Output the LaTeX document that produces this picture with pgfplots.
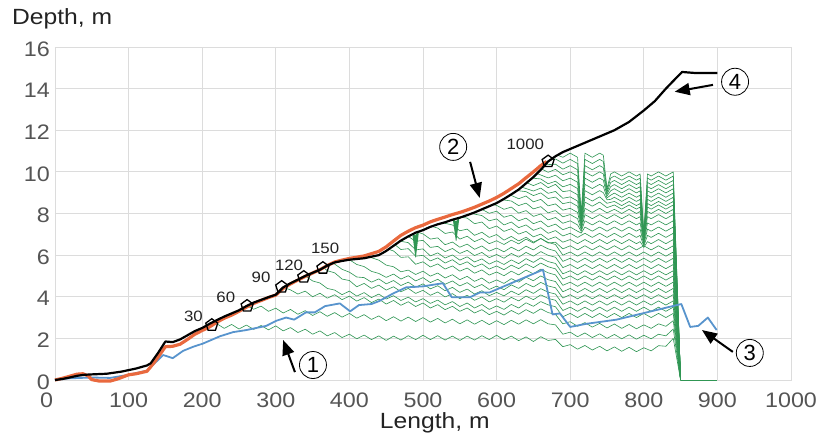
\documentclass[border=0pt]{standalone}
\usepackage{fontspec}
\setmainfont{Liberation Sans}
\usepackage{graphicx}
\usepackage{pgfplots}
\pgfplotsset{compat=1.18}
\usetikzlibrary{arrows.meta}
\definecolor{gcol}{RGB}{48,150,84}
\definecolor{ocol}{RGB}{233,105,62}
\definecolor{bcol}{RGB}{88,148,205}
\definecolor{tcol}{RGB}{85,85,85}
\definecolor{lcol}{RGB}{35,35,35}
\definecolor{gridc}{RGB}{220,220,220}
\newcommand{\sx}[1]{\scalebox{1.11}[1]{#1}}
\newcommand{\lx}[1]{\scalebox{1.12}[1]{#1}}
\tikzset{gl/.style={gcol, line width=0.62pt, line join=round}}
\begin{document}
\begin{tikzpicture}
\begin{axis}[
 at={(0,0)}, anchor=south west,
 scale only axis, width=736pt, height=333pt,
 xmin=0, xmax=1000, ymin=0, ymax=16,
 xtick={0,100,...,1000}, ytick={0,2,...,16},
 xticklabels={{\makebox[0pt][r]{\sx{0}\hspace{2pt}}},\sx{100},\sx{200},\sx{300},\sx{400},\sx{500},\sx{600},\sx{700},\sx{800},\sx{900},\sx{1000}},
 yticklabels={\sx{0},\sx{2},\sx{4},\sx{6},\sx{8},\sx{10},\sx{12},\sx{14},\sx{16}},
 grid=major, grid style={gridc, line width=0.8pt},
 axis line style={gridc, line width=0.8pt},
 major tick length=0pt,
 tick label style={font=\fontsize{21}{25}\selectfont, text=tcol},
 xticklabel style={anchor=north, inner sep=0pt, yshift=-13pt},
 yticklabel style={anchor=east, inner sep=0pt, xshift=-5pt, yshift=-2pt},
 clip=false,
]
% ---- green profiles
\addplot[gl] coordinates {(213,2.64) (220,2.70) (230,2.48) (240,2.67) (250,2.45) (260,2.64) (270,2.43) (280,2.62) (290,2.41) (300,2.60) (310,2.36) (320,2.52) (330,2.28) (340,2.44) (350,2.20) (360,2.36) (370,2.12) (380,2.28) (390,2.04) (400,2.20) (410,1.98) (420,2.16) (430,1.94) (440,2.12) (450,1.90) (460,2.11) (470,1.92) (480,2.13) (490,1.94) (500,2.15) (510,1.94) (520,2.13) (530,1.92) (540,2.11) (550,1.90) (560,2.11) (570,1.92) (580,2.13) (590,1.94) (600,2.15) (610,1.93) (620,2.11) (630,1.89) (640,2.07) (650,1.85) (660,2.08) (670,1.90) (680,1.95) (690,1.60) (700,1.70) (710,1.48) (720,1.66) (730,1.44) (740,1.62) (750,1.40) (760,1.59) (770,1.38) (780,1.57) (790,1.36) (800,1.55) (810,1.40) (820,1.65) (830,1.62) (840,2.00) (850,0)};
\addplot[gl] coordinates {(261,3.56) (270,3.40) (280,3.55) (290,3.30) (300,3.45) (310,3.22) (320,3.39) (330,3.16) (340,3.33) (350,3.10) (360,3.28) (370,3.06) (380,3.24) (390,3.02) (400,3.20) (410,2.97) (420,3.14) (430,2.91) (440,3.08) (450,2.85) (460,3.04) (470,2.83) (480,3.02) (490,2.81) (500,3.00) (510,2.78) (520,2.96) (530,2.74) (540,2.92) (550,2.70) (560,2.89) (570,2.68) (580,2.87) (590,2.66) (600,2.85) (610,2.66) (620,2.87) (630,2.68) (640,2.89) (650,2.70) (660,2.90) (670,2.70) (680,2.65) (690,2.20) (700,2.30) (710,2.08) (720,2.26) (730,2.04) (740,2.22) (750,2.00) (760,2.19) (770,1.98) (780,2.17) (790,1.96) (800,2.15) (810,1.98) (820,2.20) (830,2.12) (840,2.45) (850,0)};
\addplot[gl] coordinates {(310,4.45) (320,4.33) (330,4.13) (340,4.27) (350,4.00) (360,4.17) (370,3.93) (380,4.10) (390,3.86) (400,4.03) (410,3.79) (420,3.96) (430,3.72) (440,3.89) (450,3.65) (460,3.82) (470,3.59) (480,3.76) (490,3.53) (500,3.70) (510,3.46) (520,3.62) (530,3.38) (540,3.54) (550,3.30) (560,3.46) (570,3.22) (580,3.38) (590,3.14) (600,3.30) (610,3.12) (620,3.34) (630,3.16) (640,3.38) (650,3.20) (660,3.42) (670,3.24) (680,3.15) (690,2.70) (700,2.80) (710,2.58) (720,2.76) (730,2.54) (740,2.72) (750,2.50) (760,2.69) (770,2.48) (780,2.67) (790,2.46) (800,2.65) (810,2.48) (820,2.70) (830,2.58) (840,2.85) (850,0)};
\addplot[gl] coordinates {(340,5.00) (350,4.76) (360,4.66) (370,4.40) (380,4.32) (390,4.10) (400,4.27) (410,4.03) (420,4.20) (430,3.96) (440,4.13) (450,3.89) (460,4.05) (470,3.82) (480,3.98) (490,3.75) (500,3.91) (510,3.68) (520,3.84) (530,3.61) (540,3.77) (550,3.53) (560,3.70) (570,3.46) (580,3.63) (590,3.39) (600,3.56) (610,3.39) (620,3.63) (630,3.46) (640,3.71) (650,3.54) (660,3.77) (670,3.61) (680,3.52) (690,3.04) (700,3.20) (710,3.00) (720,3.20) (730,3.00) (740,3.20) (750,3.00) (760,3.20) (770,3.00) (780,3.20) (790,3.00) (800,3.20) (810,3.00) (820,3.20) (830,3.00) (840,3.20) (850,0)};
\addplot[gl] coordinates {(365,5.40) (370,5.25) (380,5.15) (390,4.85) (400,4.78) (410,4.48) (420,4.64) (430,4.40) (440,4.56) (450,4.32) (460,4.48) (470,4.24) (480,4.40) (490,4.16) (500,4.31) (510,4.07) (520,4.23) (530,3.99) (540,4.15) (550,3.91) (560,4.07) (570,3.83) (580,3.99) (590,3.75) (600,3.91) (610,3.74) (620,3.97) (630,3.80) (640,4.03) (650,3.86) (660,4.09) (670,3.92) (680,3.83) (690,3.34) (700,3.50) (710,3.30) (720,3.50) (730,3.30) (740,3.50) (750,3.30) (760,3.50) (770,3.30) (780,3.50) (790,3.30) (800,3.50) (810,3.30) (820,3.50) (830,3.30) (840,3.50) (850,0)};
\addplot[gl] coordinates {(378,5.62) (390,5.32) (400,5.18) (410,4.95) (420,4.92) (430,4.70) (440,4.86) (450,4.62) (460,4.78) (470,4.54) (480,4.70) (490,4.46) (500,4.62) (510,4.38) (520,4.53) (530,4.29) (540,4.45) (550,4.21) (560,4.37) (570,4.13) (580,4.29) (590,4.05) (600,4.21) (610,4.04) (620,4.27) (630,4.10) (640,4.34) (650,4.16) (660,4.39) (670,4.22) (680,4.13) (690,3.64) (700,3.80) (710,3.60) (720,3.80) (730,3.60) (740,3.80) (750,3.60) (760,3.80) (770,3.60) (780,3.80) (790,3.60) (800,3.80) (810,3.60) (820,3.80) (830,3.60) (840,3.80) (850,0)};
\addplot[gl] coordinates {(400,5.78) (410,5.55) (420,5.45) (430,5.22) (440,5.12) (450,4.93) (460,5.09) (470,4.85) (480,5.01) (490,4.76) (500,4.92) (510,4.68) (520,4.84) (530,4.60) (540,4.76) (550,4.52) (560,4.68) (570,4.44) (580,4.59) (590,4.35) (600,4.51) (610,4.34) (620,4.57) (630,4.40) (640,4.64) (650,4.47) (660,4.69) (670,4.52) (680,4.43) (690,3.94) (700,4.10) (710,3.90) (720,4.10) (730,3.90) (740,4.10) (750,3.90) (760,4.10) (770,3.90) (780,4.10) (790,3.90) (800,4.10) (810,3.90) (820,4.10) (830,3.90) (840,4.10) (850,0)};
\addplot[gl] coordinates {(428,5.90) (440,5.76) (450,5.52) (460,5.44) (470,5.20) (480,5.28) (490,5.07) (500,5.23) (510,4.99) (520,5.14) (530,4.90) (540,5.06) (550,4.82) (560,4.98) (570,4.74) (580,4.90) (590,4.65) (600,4.81) (610,4.64) (620,4.87) (630,4.70) (640,4.94) (650,4.77) (660,5.00) (670,4.82) (680,4.73) (690,4.24) (700,4.40) (710,4.20) (720,4.40) (730,4.20) (740,4.40) (750,4.20) (760,4.40) (770,4.20) (780,4.40) (790,4.20) (800,4.40) (810,4.20) (820,4.40) (830,4.20) (840,4.40) (850,0)};
\addplot[gl] coordinates {(453,6.28) (460,6.20) (470,5.89) (480,5.92) (490,5.56) (500,5.68) (510,5.43) (520,5.58) (530,5.33) (540,5.48) (550,5.23) (560,5.38) (570,5.13) (580,5.29) (590,5.04) (600,5.19) (610,5.01) (620,5.23) (630,5.05) (640,5.28) (650,5.10) (660,5.33) (670,5.15) (680,5.05) (690,4.55) (700,4.70) (710,4.50) (720,4.70) (730,4.50) (740,4.70) (750,4.50) (760,4.70) (770,4.50) (780,4.70) (790,4.50) (800,4.70) (810,4.50) (820,4.70) (830,4.50) (840,4.70) (850,0)};
\addplot[gl] coordinates {(462,6.50) (470,6.27) (480,6.31) (490,5.95) (500,5.99) (510,5.72) (520,5.87) (530,5.62) (540,5.78) (550,5.53) (560,5.68) (570,5.43) (580,5.58) (590,5.33) (600,5.48) (610,5.30) (620,5.52) (630,5.35) (640,5.58) (650,5.40) (660,5.62) (670,5.44) (680,5.34) (690,4.85) (700,5.00) (710,4.80) (720,5.00) (730,4.80) (740,5.00) (750,4.80) (760,5.00) (770,4.80) (780,5.00) (790,4.80) (800,5.00) (810,4.80) (820,5.00) (830,4.80) (840,5.00) (850,0)};
\addplot[gl] coordinates {(469,6.67) (480,6.60) (490,6.25) (500,6.30) (510,5.96) (520,6.11) (530,5.86) (540,6.01) (550,5.76) (560,5.92) (570,5.67) (580,5.82) (590,5.57) (600,5.73) (610,5.55) (620,5.77) (630,5.59) (640,5.83) (650,5.65) (660,5.87) (670,5.69) (680,5.60) (690,5.10) (700,5.25) (710,5.05) (720,5.25) (730,5.05) (740,5.25) (750,5.05) (760,5.25) (770,5.05) (780,5.25) (790,5.05) (800,5.25) (810,5.05) (820,5.25) (830,5.05) (840,5.25) (850,0)};
\addplot[gl] coordinates {(480,6.90) (490,6.66) (500,6.71) (510,6.37) (520,6.42) (530,6.17) (540,6.32) (550,6.08) (560,6.23) (570,5.98) (580,6.13) (590,5.88) (600,6.03) (610,5.85) (620,6.08) (630,5.90) (640,6.13) (650,5.95) (660,6.17) (670,5.99) (680,5.90) (690,5.40) (700,5.55) (710,5.35) (720,5.55) (730,5.35) (740,5.55) (750,5.35) (760,5.55) (770,5.35) (780,5.55) (790,5.35) (800,5.55) (810,5.35) (820,5.55) (830,5.35) (840,5.55) (850,0)};
\addplot[gl] coordinates {(492,7.11) (500,7.02) (510,6.77) (520,6.83) (530,6.50) (540,6.63) (550,6.38) (560,6.53) (570,6.28) (580,6.44) (590,6.19) (600,6.34) (610,6.16) (620,6.38) (630,6.20) (640,6.43) (650,6.25) (660,6.48) (670,6.30) (680,6.20) (690,5.70) (700,5.85) (710,5.65) (720,5.85) (730,5.65) (740,5.85) (750,5.65) (760,5.85) (770,5.65) (780,5.85) (790,5.65) (800,5.85) (810,5.65) (820,5.85) (830,5.65) (840,5.85) (850,0)};
\addplot[gl] coordinates {(512,7.38) (520,7.30) (530,7.04) (540,7.11) (550,6.77) (560,6.91) (570,6.65) (580,6.80) (590,6.55) (600,6.69) (610,6.51) (620,6.72) (630,6.54) (640,6.77) (650,6.58) (660,6.80) (670,6.61) (680,6.51) (690,6.00) (700,6.15) (710,5.95) (720,6.15) (730,5.95) (740,6.15) (750,5.95) (760,6.15) (770,5.95) (780,6.15) (790,5.95) (800,6.15) (810,5.95) (820,6.15) (830,5.95) (840,6.15) (850,0)};
\addplot[gl] coordinates {(527,7.55) (540,7.45) (550,7.17) (560,7.25) (570,6.95) (580,7.10) (590,6.85) (600,6.99) (610,6.72) (620,6.90) (630,6.68) (640,6.86) (650,6.62) (660,6.80) (670,6.58) (680,6.62) (690,6.30) (700,6.45) (710,6.25) (720,6.45) (730,6.25) (740,6.45) (750,6.25) (760,6.45) (770,6.25) (780,6.45) (790,6.25) (800,6.45) (810,6.25) (820,6.45) (830,6.25) (840,6.45) (850,0)};
\addplot[gl] coordinates {(552,7.82) (560,7.78) (570,7.51) (580,7.59) (590,7.27) (600,7.40) (610,7.14) (620,7.27) (630,7.01) (640,7.14) (650,6.88) (660,7.01) (670,6.75) (680,6.88) (690,6.62) (700,6.75) (710,6.55) (720,6.75) (730,6.55) (740,6.75) (750,6.55) (760,6.75) (770,6.55) (780,6.75) (790,6.55) (795,6.65) (800,6.37) (805,6.65) (810,6.55) (820,6.75) (830,6.55) (840,6.75) (850,0)};
\addplot[gl] coordinates {(566,8.00) (580,7.90) (590,7.65) (600,7.74) (610,7.45) (620,7.59) (630,7.32) (640,7.45) (650,7.19) (660,7.32) (670,7.05) (680,7.18) (690,6.92) (700,7.05) (710,6.85) (720,7.05) (730,6.85) (740,7.05) (750,6.85) (760,7.05) (770,6.85) (780,7.05) (790,6.85) (795,6.95) (800,6.43) (805,6.95) (810,6.85) (820,7.05) (830,6.85) (840,7.05) (850,0)};
\addplot[gl] coordinates {(580,8.20) (590,8.01) (600,8.11) (610,7.82) (620,7.92) (630,7.65) (640,7.78) (650,7.51) (660,7.64) (670,7.36) (680,7.49) (690,7.22) (700,7.35) (710,7.15) (715,7.06) (720,7.35) (730,7.15) (740,7.35) (750,7.15) (760,7.35) (770,7.15) (780,7.35) (790,7.15) (795,7.25) (800,6.49) (805,7.25) (810,7.15) (820,7.35) (830,7.15) (840,7.35) (850,0)};
\addplot[gl] coordinates {(595,8.43) (600,8.39) (610,8.20) (620,8.31) (630,8.02) (640,8.14) (650,7.86) (660,7.98) (670,7.69) (680,7.81) (690,7.53) (700,7.65) (710,7.45) (715,7.14) (720,7.65) (730,7.45) (740,7.65) (750,7.45) (760,7.65) (770,7.45) (780,7.65) (790,7.45) (795,7.55) (800,6.55) (805,7.55) (810,7.45) (820,7.65) (830,7.45) (840,7.65) (850,0)};
\addplot[gl] coordinates {(608,8.66) (620,8.60) (630,8.38) (640,8.50) (650,8.22) (660,8.33) (670,8.03) (680,8.14) (690,7.84) (700,7.95) (710,7.75) (715,7.21) (720,7.95) (730,7.75) (740,7.95) (750,7.75) (760,7.95) (770,7.75) (780,7.95) (790,7.75) (795,7.85) (800,6.61) (805,7.85) (810,7.75) (820,7.95) (830,7.75) (840,7.95) (850,0)};
\addplot[gl] coordinates {(618,8.90) (630,8.71) (640,8.84) (650,8.56) (660,8.68) (670,8.37) (680,8.46) (690,8.16) (700,8.25) (710,8.05) (715,7.29) (720,8.25) (730,8.05) (740,8.25) (750,8.03) (760,8.20) (770,8.00) (780,8.20) (790,8.00) (795,8.10) (800,6.66) (805,8.10) (810,8.00) (820,8.20) (830,8.00) (840,8.20) (850,0)};
\addplot[gl] coordinates {(628,9.10) (640,9.05) (650,8.86) (660,8.99) (670,8.72) (680,8.79) (690,8.47) (700,8.55) (710,8.35) (715,7.36) (720,8.55) (730,8.35) (740,8.55) (750,8.28) (760,8.41) (770,8.21) (780,8.41) (790,8.21) (795,8.31) (800,6.70) (805,8.31) (810,8.21) (820,8.41) (830,8.21) (840,8.41) (850,0)};
\addplot[gl] coordinates {(634,9.27) (650,9.08) (660,9.22) (670,8.97) (680,9.06) (690,8.73) (700,8.80) (710,8.60) (715,7.43) (720,8.80) (730,8.60) (740,8.80) (750,8.49) (760,8.58) (770,8.38) (780,8.58) (790,8.38) (795,8.48) (800,6.74) (805,8.48) (810,8.38) (820,8.58) (830,8.38) (840,8.58) (850,0)};
\addplot[gl] coordinates {(641,9.48) (650,9.34) (660,9.49) (670,9.24) (680,9.40) (690,9.05) (700,9.10) (710,8.90) (715,7.50) (720,9.10) (730,8.90) (740,9.10) (745,9.00) (750,8.66) (755,8.68) (760,8.78) (770,8.58) (780,8.78) (790,8.58) (795,8.68) (800,6.78) (805,8.68) (810,8.58) (820,8.78) (830,8.58) (840,8.78) (850,0)};
\addplot[gl] coordinates {(648,9.70) (660,9.66) (670,9.43) (680,9.55) (690,9.28) (700,9.40) (710,9.20) (715,7.58) (720,9.40) (730,9.20) (740,9.40) (745,9.30) (750,8.75) (755,8.88) (760,8.98) (770,8.78) (780,8.98) (790,8.78) (795,8.88) (800,6.82) (805,8.88) (810,8.78) (820,8.98) (830,8.78) (840,8.98) (850,0)};
\addplot[gl] coordinates {(655,9.92) (670,9.71) (680,9.84) (690,9.57) (700,9.70) (710,9.50) (715,7.65) (720,9.70) (730,9.50) (740,9.70) (745,9.60) (750,8.84) (755,9.09) (760,9.19) (770,8.99) (780,9.19) (790,8.99) (795,9.09) (800,6.86) (805,9.09) (810,8.99) (820,9.19) (830,8.99) (840,9.19) (850,0)};
\addplot[gl] coordinates {(661,10.14) (670,9.98) (680,10.12) (690,9.86) (700,10.00) (710,9.80) (715,7.73) (720,10.00) (730,9.80) (740,10.00) (745,9.90) (750,8.93) (755,9.29) (760,9.39) (770,9.19) (780,9.39) (790,9.19) (795,9.29) (800,6.90) (805,9.29) (810,9.19) (820,9.39) (830,9.19) (840,9.39) (850,0)};
\addplot[gl] coordinates {(666,10.34) (680,10.37) (690,10.13) (700,10.30) (710,10.10) (715,7.80) (720,10.30) (730,10.10) (740,10.30) (745,10.20) (750,9.02) (755,9.49) (760,9.59) (770,9.39) (780,9.59) (790,9.39) (795,9.49) (800,6.94) (805,9.49) (810,9.39) (820,9.59) (830,9.39) (840,9.59) (850,0)};
\addplot[gl] coordinates {(672,10.58) (680,10.62) (690,10.42) (700,10.60) (710,10.40) (715,7.88) (720,10.60) (730,10.40) (740,10.60) (745,10.50) (750,9.11) (755,9.70) (760,9.80) (770,9.60) (780,9.80) (790,9.60) (795,9.70) (800,6.98) (805,9.70) (810,9.60) (820,9.80) (830,9.60) (840,9.80) (850,0)};
\addplot[gl] coordinates {(683,10.80) (690,10.70) (700,10.90) (710,10.70) (715,7.95) (720,10.90) (730,10.70) (740,10.90) (745,10.80) (750,9.20) (755,9.90) (760,10.00) (770,9.80) (780,10.00) (790,9.80) (795,9.90) (800,7.02) (805,9.90) (810,9.80) (820,10.00) (830,9.80) (840,10.00) (850,0)};
% scour bands hanging from the top profile
\addplot[gl] coordinates {(486,7.01) (490,6.95) (494,7.13) (490,6.88) (486,7.01) (490,6.82) (494,7.13) (490,6.75) (486,7.01) (490,6.69) (494,7.13) (490,6.62) (486,7.01) (490,6.55) (494,7.13) (490,6.49) (486,7.01) (490,6.42) (494,7.13) (490,6.36) (486,7.01) (490,6.29) (494,7.13) (490,6.22) (486,7.01) (490,6.16) (494,7.13) (490,6.09) (486,7.01) (490,6.03) (494,7.13) (490,5.96) (486,7.01) (490,5.90) (494,7.13)};
\addplot[gl] coordinates {(541,7.71) (545,7.60) (549,7.79) (545,7.54) (541,7.71) (545,7.47) (549,7.79) (545,7.41) (541,7.71) (545,7.34) (549,7.79) (545,7.28) (541,7.71) (545,7.21) (549,7.79) (545,7.15) (541,7.71) (545,7.09) (549,7.79) (545,7.02) (541,7.71) (545,6.96) (549,7.79) (545,6.89) (541,7.71) (545,6.83) (549,7.79) (545,6.76) (541,7.71) (545,6.70) (549,7.79)};
\addplot[gl, line width=1pt] coordinates {(850,0) (900,0)};
% ---- blue (3)
\addplot[bcol, line width=1.8pt, line join=round] coordinates {(0,0) (20,0.08) (50,0.12) (75,0.1) (100,0.25) (125,0.45) (147,1.2) (160,1.05) (174,1.4) (188,1.6) (201,1.75) (224,2.1) (242,2.3) (260,2.4) (287,2.6) (301,2.85) (314,3.0) (325,2.9) (341,3.25) (353,3.25) (367,3.55) (387,3.68) (401,3.3) (413,3.6) (430,3.65) (441,3.8) (459,4.15) (477,4.45) (500,4.5) (527,4.65) (539,3.98) (564,3.98) (577,4.2) (590,4.2) (663,5.3) (676,3.15) (686,3.2) (700,2.55) (722,2.7) (763,2.9) (845,3.6) (851,3.65) (863,2.55) (874,2.6) (887,3.0) (899,2.4)};
% ---- orange (2)
\addplot[ocol, line width=3.2pt, line join=round] coordinates {(0,0) (10,0.08) (20,0.18) (30,0.28) (38,0.3) (45,0.2) (50,0.02) (60,-0.05) (75,-0.05) (85,0.05) (100,0.25) (110,0.3) (125,0.42) (135,0.85) (150,1.6) (160,1.62) (170,1.72) (180,1.95) (190,2.2) (200,2.38) (210,2.55) (220,2.78) (230,2.97) (240,3.12) (250,3.3) (260,3.5) (270,3.68) (280,3.82) (290,3.96) (300,4.08) (310,4.4) (320,4.62) (330,4.8) (340,4.98) (350,5.14) (360,5.3) (370,5.5) (380,5.67) (390,5.76) (400,5.84) (420,5.96) (440,6.18) (450,6.4) (460,6.68) (470,6.95) (480,7.15) (490,7.32) (500,7.44) (510,7.6) (520,7.72) (530,7.83) (540,7.95) (550,8.05) (560,8.17) (570,8.3) (580,8.45) (590,8.6) (600,8.77) (610,8.97) (620,9.2) (630,9.43) (640,9.72) (650,10.0) (660,10.3) (668,10.5)};
% ---- black (4)
\addplot[black, line width=2.2pt, line join=round] coordinates {(0,0) (10,0.05) (20,0.12) (30,0.2) (40,0.25) (50,0.27) (70,0.3) (90,0.4) (110,0.55) (125,0.7) (130,0.8) (140,1.3) (150,1.85) (160,1.82) (170,1.95) (180,2.15) (190,2.35) (200,2.5) (210,2.7) (220,2.88) (230,3.05) (240,3.2) (250,3.35) (260,3.55) (270,3.72) (280,3.85) (290,3.98) (300,4.1) (310,4.45) (320,4.65) (330,4.82) (340,5.0) (350,5.15) (360,5.3) (370,5.5) (380,5.65) (390,5.72) (400,5.78) (420,5.85) (440,6.0) (450,6.2) (460,6.45) (470,6.7) (480,6.9) (490,7.08) (500,7.2) (510,7.36) (520,7.48) (530,7.58) (540,7.7) (550,7.8) (560,7.92) (570,8.05) (580,8.2) (590,8.35) (600,8.5) (610,8.7) (620,8.92) (630,9.15) (640,9.45) (650,9.75) (660,10.1) (670,10.5) (680,10.75) (690,10.95) (700,11.1) (720,11.4) (740,11.7) (760,12.0) (780,12.4) (800,12.95) (815,13.4) (830,14.0) (845,14.55) (852,14.8) (870,14.75) (900,14.75)};
% ---- time markers
\addplot[only marks, mark=pentagon, mark size=6.3pt, mark options={black, line width=1.3pt, fill=none}] coordinates {(213,2.64) (261,3.56) (308,4.47) (338,4.95) (364,5.38) (670,10.5)};
\begin{scope}[every node/.style={font=\fontsize{15}{17}\selectfont, text=lcol, inner sep=0pt}]
\node at (axis cs:188,3.04) {\lx{30}};
\node at (axis cs:232,3.96) {\lx{60}};
\node at (axis cs:280,4.94) {\lx{90}};
\node at (axis cs:318,5.5) {\lx{120}};
\node at (axis cs:367,6.33) {\lx{150}};
\node at (axis cs:639,11.3) {\lx{1000}};
\end{scope}
% ---- callouts
\begin{scope}[every node/.style={circle, draw=black, line width=0.8pt, minimum size=27pt, inner sep=0pt, font=\fontsize{22}{24}\selectfont}]
\node at (axis cs:350.5,0.72) {1};
\node at (axis cs:541,11.2) {2};
\node at (axis cs:944,1.3) {3};
\node at (axis cs:924,14.33) {4};
\end{scope}
\begin{scope}[line width=2pt, -{Triangle[length=15pt, width=12pt]}]
\draw (axis cs:326,0.38) -- (axis cs:310,1.92);
\draw (axis cs:564,10.48) -- (axis cs:577,8.75);
\draw (axis cs:921,1.35) -- (axis cs:879,2.4);
\draw (axis cs:894,14.18) -- (axis cs:842,13.85);
\end{scope}
% ---- axis titles
\node[anchor=base west, inner sep=0pt, font=\fontsize{22}{25}\selectfont, text=lcol, xshift=-43pt, yshift=22pt] at (rel axis cs:0,1) {\lx{Depth, m}};
\node[anchor=base, inner sep=0pt, font=\fontsize{22}{25}\selectfont, text=lcol, yshift=-48pt] at (axis cs:516,0) {\lx{Length, m}};
\end{axis}
\pgfresetboundingbox
\path[use as bounding box] (-55pt,-64pt) rectangle (782pt,380pt);
\end{tikzpicture}
\end{document}
